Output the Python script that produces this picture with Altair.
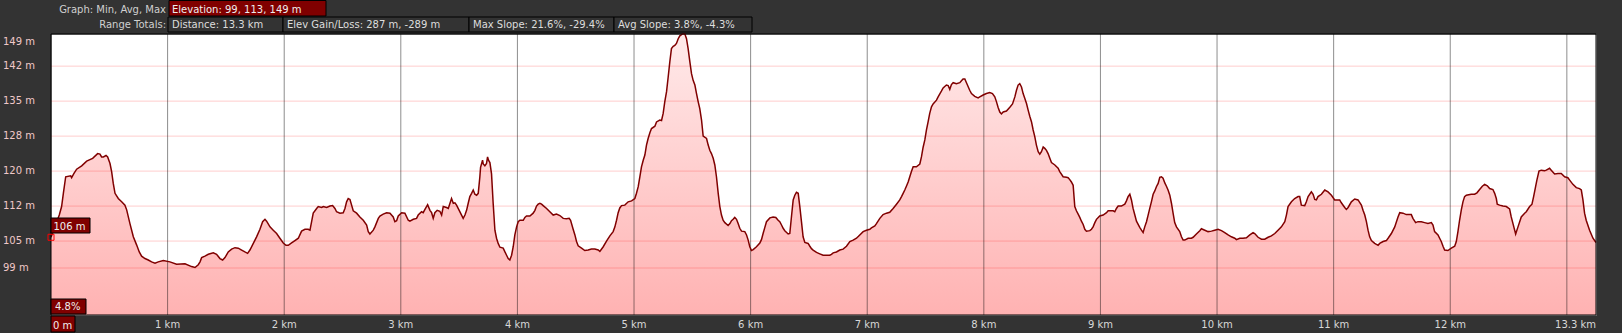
import altair as alt
import pandas as pd

# ---------------- data ----------------
dist_km = [
    0.000, 0.071, 0.091, 0.106, 0.126, 0.169, 0.177, 0.197, 0.220, 0.263,
    0.306, 0.357, 0.400, 0.420, 0.434, 0.449, 0.472, 0.486, 0.506, 0.520,
    0.534, 0.549, 0.577, 0.606, 0.634, 0.649, 0.677, 0.706, 0.734, 0.757,
    0.777, 0.806, 0.834, 0.863, 0.892, 0.920, 0.963, 1.020, 1.077, 1.149,
    1.206, 1.235, 1.263,
    1.278, 1.292, 1.320, 1.349, 1.392, 1.420, 1.449, 1.472, 1.492, 1.520,
    1.549, 1.578, 1.606, 1.635, 1.663, 1.686, 1.706, 1.735, 1.763, 1.792,
    1.815, 1.835, 1.849, 1.878, 1.906, 1.935, 1.963, 1.992, 2.015, 2.035,
    2.063, 2.092, 2.121, 2.149, 2.178, 2.206, 2.221, 2.235, 2.249, 2.278,
    2.292, 2.321, 2.335, 2.364, 2.392, 2.415, 2.435, 2.449, 2.478, 2.506,
    2.521, 2.535, 2.549, 2.564, 2.578, 2.592, 2.621, 2.649, 2.678, 2.707,
    2.721, 2.735, 2.764, 2.778, 2.807, 2.821, 2.849, 2.878, 2.907, 2.935,
    2.949, 2.964, 2.978, 3.007, 3.035, 3.064, 3.078, 3.107, 3.135, 3.149,
    3.178, 3.192, 3.207, 3.230, 3.250, 3.264, 3.278, 3.292, 3.312, 3.335,
    3.350, 3.364, 3.392, 3.407, 3.435, 3.450, 3.464, 3.478, 3.492, 3.521,
    3.535, 3.550, 3.564, 3.578, 3.592, 3.607, 3.621, 3.635, 3.650, 3.664,
    3.678, 3.684, 3.701, 3.707, 3.721, 3.735, 3.744, 3.752, 3.764, 3.778,
    3.792, 3.807, 3.821, 3.835, 3.850, 3.878, 3.893, 3.907, 3.921, 3.935,
    3.950, 3.964, 3.978, 3.993, 4.007, 4.021, 4.050, 4.064, 4.078, 4.107,
    4.135, 4.150, 4.164, 4.178, 4.193, 4.207, 4.221, 4.250, 4.278, 4.307,
    4.335, 4.364, 4.393, 4.421, 4.444, 4.456, 4.478, 4.493, 4.507, 4.521,
    4.550, 4.578, 4.607, 4.635, 4.664, 4.693, 4.707,
    4.736, 4.764, 4.793, 4.821, 4.836, 4.850, 4.864, 4.878, 4.893, 4.921,
    4.950, 4.979, 5.007, 5.021, 5.036, 5.050, 5.064, 5.079, 5.093, 5.107,
    5.121, 5.136, 5.150, 5.179, 5.193, 5.221, 5.236, 5.250, 5.264, 5.279,
    5.293, 5.307, 5.321, 5.336, 5.350, 5.364, 5.379, 5.393, 5.416, 5.436,
    5.450, 5.464, 5.479, 5.493, 5.507, 5.522, 5.536, 5.550, 5.564, 5.579,
    5.593, 5.622, 5.636, 5.650, 5.664, 5.679, 5.693, 5.707, 5.722, 5.736,
    5.750, 5.764, 5.779, 5.807, 5.822, 5.836, 5.850, 5.864, 5.879, 5.893,
    5.907, 5.922, 5.950, 5.965, 5.979, 5.993, 6.007, 6.022, 6.050, 6.079,
    6.093, 6.107, 6.122, 6.136, 6.165, 6.193, 6.216, 6.236, 6.250, 6.265,
    6.279, 6.293, 6.322, 6.336, 6.350, 6.365, 6.379, 6.393, 6.408, 6.422,
    6.436, 6.450, 6.465, 6.493, 6.508, 6.522, 6.536, 6.565, 6.593, 6.622,
    6.650, 6.679, 6.693, 6.708, 6.736, 6.765, 6.793, 6.822, 6.851, 6.879,
    6.908, 6.936, 6.965, 6.993, 7.022, 7.036, 7.065, 7.079, 7.108, 7.136,
    7.165, 7.193, 7.222, 7.251, 7.279, 7.294, 7.308, 7.322, 7.336, 7.351,
    7.365, 7.379, 7.394, 7.422, 7.451, 7.465, 7.479, 7.494, 7.508, 7.522,
    7.536, 7.551, 7.565, 7.594, 7.608, 7.636, 7.651, 7.679, 7.694, 7.708,
    7.722, 7.737, 7.765, 7.794, 7.808, 7.822, 7.837, 7.851, 7.879, 7.894,
    7.922, 7.951, 7.965, 7.994, 8.022, 8.051, 8.074, 8.094, 8.108, 8.122,
    8.137,
    8.151, 8.166, 8.194, 8.223, 8.246, 8.266, 8.280, 8.294, 8.308, 8.323,
    8.337, 8.351, 8.366, 8.380, 8.394, 8.409, 8.423, 8.437, 8.451, 8.466,
    8.480, 8.494, 8.509, 8.523, 8.537, 8.551, 8.566, 8.580, 8.609, 8.637,
    8.651, 8.680, 8.709, 8.723, 8.737, 8.751, 8.766, 8.780, 8.794, 8.809,
    8.823, 8.837, 8.852, 8.866, 8.880, 8.909, 8.923, 8.937, 8.952, 8.966,
    8.994, 9.023, 9.052, 9.066, 9.109, 9.123, 9.137, 9.152, 9.180, 9.194,
    9.209, 9.223, 9.237, 9.252, 9.266, 9.280, 9.295, 9.309, 9.337, 9.352,
    9.366, 9.380, 9.395, 9.409, 9.423, 9.437, 9.452, 9.466, 9.480, 9.495,
    9.509, 9.523, 9.537, 9.552, 9.566, 9.580, 9.595, 9.609, 9.623, 9.637,
    9.652, 9.680, 9.695, 9.709, 9.723, 9.752, 9.780, 9.795, 9.823, 9.852,
    9.866, 9.895, 9.923, 9.952, 9.980, 10.009, 10.038, 10.066, 10.095, 10.123,
    10.152, 10.166, 10.195, 10.223, 10.252, 10.281, 10.309, 10.323, 10.352, 10.381,
    10.409, 10.438, 10.466, 10.495, 10.523, 10.552, 10.581, 10.595, 10.609, 10.638,
    10.666, 10.695, 10.709, 10.723, 10.752, 10.766, 10.781, 10.809, 10.824, 10.838,
    10.852, 10.866, 10.895, 10.924, 10.952, 10.981, 11.009, 11.052, 11.066, 11.095,
    11.109, 11.124, 11.152, 11.181, 11.209, 11.238, 11.252, 11.267, 11.281, 11.295,
    11.309, 11.324, 11.352, 11.381, 11.395, 11.424, 11.452, 11.467, 11.495, 11.524,
    11.552, 11.567,
    11.595, 11.623, 11.666, 11.680, 11.703, 11.723, 11.752, 11.780, 11.809, 11.838,
    11.852, 11.866, 11.895, 11.909, 11.923, 11.938, 11.952, 11.980, 12.009, 12.038,
    12.052, 12.066, 12.080, 12.095, 12.109, 12.123, 12.138, 12.180, 12.209, 12.229,
    12.252, 12.275, 12.295, 12.318, 12.338, 12.366, 12.381, 12.395, 12.403, 12.423,
    12.452, 12.481, 12.509, 12.523, 12.538, 12.561, 12.581, 12.609, 12.638, 12.652,
    12.681, 12.701, 12.715, 12.732, 12.743, 12.761, 12.781, 12.809, 12.824, 12.852,
    12.866, 12.895, 12.924, 12.952, 12.981, 13.009, 13.024, 13.052, 13.081, 13.109,
    13.124, 13.138, 13.152, 13.166, 13.195, 13.224, 13.250,
]

elev_m = [
    105.8, 110.5, 112.3, 115.1, 118.6, 118.8, 118.4, 119.3, 120.2, 120.9,
    121.9, 122.5, 123.5, 123.4, 122.8, 122.8, 123.1, 122.8, 121.4, 119.7,
    117.2, 115.1, 114.0, 113.3, 112.6, 111.6, 108.7, 105.9, 104.2, 102.7,
    101.8, 101.3, 101.0, 100.6, 100.3, 100.6, 100.9, 100.6, 100.1, 100.2,
    99.6, 99.4, 100.0,
    100.6, 101.5, 101.8, 102.2, 102.5, 102.2, 101.3, 101.0, 101.5, 102.7,
    103.3, 103.6, 103.5, 103.1, 102.7, 102.4, 103.1, 104.5, 105.9, 107.5,
    109.1, 109.6, 109.2, 108.0, 107.3, 106.6, 105.6, 104.6, 104.1, 104.1,
    104.6, 105.1, 105.6, 107.1, 107.5, 107.5, 107.3, 109.1, 110.9, 111.9,
    112.3, 112.1, 112.3, 112.1, 112.4, 112.5, 111.9, 111.2, 110.9, 111.0,
    111.9, 113.3, 114.0, 113.8, 112.6, 111.4, 110.9, 110.1, 109.4, 108.4,
    107.0, 106.5, 107.3, 108.0, 109.8, 110.3, 110.7, 111.0, 110.9, 110.1,
    109.1, 109.3, 110.3, 111.0, 110.9, 109.4, 109.2, 109.6, 109.8, 110.5,
    111.2, 111.0, 111.7, 112.7, 111.5, 111.0, 109.8, 111.0, 111.5, 111.3,
    110.5, 112.3, 112.1, 111.9, 114.0, 113.0, 113.1, 112.6, 111.9, 110.5,
    109.8, 110.5, 111.5, 113.0, 114.4, 115.1, 115.8, 114.9, 114.7, 115.1,
    118.6, 120.6, 122.1, 121.3, 120.9, 121.4, 122.8, 122.1, 121.6, 119.2,
    113.0, 107.3, 105.6, 104.5, 103.7, 103.5, 102.7, 102.0, 101.3, 101.0,
    102.0, 103.8, 106.3, 108.0, 109.1, 109.4, 109.4, 110.0, 110.3, 110.3,
    110.9, 111.5, 112.4, 112.8, 113.0, 112.8, 112.5, 111.9, 111.2, 110.5,
    110.7, 110.4, 109.8, 109.7, 109.8, 109.4, 107.5, 106.3, 104.9, 104.0,
    103.5, 103.0, 103.1, 103.3, 103.3, 103.1, 102.8,
    103.8, 105.0, 106.1, 107.0, 108.0, 109.4, 111.0, 112.0, 112.5, 112.6,
    113.3, 113.5, 114.0, 115.1, 116.5, 118.6, 120.7, 122.1, 123.2, 125.3,
    126.7, 127.9, 128.8, 129.3, 130.2, 130.6, 130.5, 132.0, 134.5, 136.6,
    139.7, 142.9, 145.7, 146.2, 146.4, 146.8, 147.8, 148.4, 148.8, 148.8,
    147.8, 145.7, 142.9, 140.4, 139.0, 138.0, 136.2, 134.5, 133.0, 130.6,
    127.2, 126.7, 125.3, 124.2, 123.5, 122.5, 121.1, 118.6, 115.1, 112.3,
    110.5, 109.4, 108.9, 108.3, 108.7, 109.3, 109.6, 110.0, 109.6, 108.7,
    107.7, 107.1, 107.0, 106.3, 105.2, 103.8, 103.0, 103.2, 103.8, 104.6,
    105.3, 106.6, 107.9, 109.1, 109.9, 110.1, 110.0, 109.4, 109.1, 108.4,
    107.7, 107.2, 106.5, 106.6, 110.1, 113.7, 114.7, 115.3, 115.1, 112.3,
    109.1, 105.9, 104.7, 104.5, 103.9, 103.4, 103.1, 102.6, 102.3, 102.0,
    102.0, 102.0, 102.2, 102.5, 102.7, 103.1, 103.3, 103.9, 104.9, 105.2,
    105.6, 106.3, 107.0, 107.3, 107.5, 107.8, 108.2, 108.7, 109.8, 110.6,
    110.9, 111.1, 111.9, 112.8, 113.7, 114.4, 115.1, 115.8, 116.6, 117.5,
    118.6, 119.7, 120.7, 120.7, 121.3, 122.8, 124.8, 126.4, 128.5, 130.2,
    132.0, 133.4, 134.0, 134.8, 135.5, 136.7, 137.4, 138.0, 137.9, 137.1,
    138.1, 138.5, 138.3, 138.5, 138.9, 139.3, 139.3, 138.5, 136.9, 136.2,
    135.6, 135.3, 135.5, 135.9, 136.2, 136.4, 136.2, 135.5, 134.5, 133.3,
    132.3,
    131.9, 132.3, 132.5, 133.3, 134.0, 135.5, 136.9, 138.0, 138.3, 137.6,
    136.2, 135.2, 134.1, 132.7, 131.4, 130.2, 128.5, 127.1, 125.3, 123.9,
    123.4, 123.9, 124.9, 124.6, 124.2, 123.5, 122.5, 121.6, 121.1, 120.4,
    119.7, 118.6, 118.5, 118.4, 118.0, 117.5, 116.8, 112.3, 111.4, 110.7,
    110.0, 109.2, 108.5, 107.5, 107.1, 107.2, 107.5, 108.0, 108.9, 109.6,
    110.3, 110.5, 111.0, 111.4, 111.4, 111.2, 111.9, 112.4, 112.4, 112.6,
    112.8, 113.5, 114.4, 114.9, 113.7, 111.9, 110.5, 109.2, 107.9, 107.3,
    106.8, 108.0, 109.1, 110.5, 111.9, 113.3, 114.9, 115.6, 116.5, 117.2,
    118.5, 118.6, 118.3, 117.3, 116.6, 115.8, 114.7, 113.0, 110.9, 108.9,
    108.0, 107.0, 105.9, 105.2, 105.2, 105.6, 105.6, 105.8, 106.5, 107.2,
    107.6, 107.3, 107.0, 107.1, 107.3, 107.5, 107.2, 106.8, 106.3, 105.9,
    105.6, 105.3, 105.6, 105.6, 105.7, 106.3, 106.8, 106.6, 105.8, 105.4,
    105.4, 105.8, 106.1, 106.6, 107.3, 108.0, 109.1, 110.5, 112.3, 113.3,
    114.0, 114.4, 114.4, 112.6, 112.5, 113.3, 114.4, 115.4, 114.9, 113.8,
    113.7, 114.4, 114.9, 115.8, 115.4, 114.7, 113.7, 113.7, 113.1, 112.1,
    111.7, 112.1, 113.3, 113.9, 113.7, 112.6, 111.5, 110.5, 109.1, 107.3,
    105.9, 105.1, 104.5, 104.1, 104.5, 104.9, 105.1, 105.6, 106.6, 108.0,
    110.1, 111.0,
    110.9, 110.6, 110.6, 109.8, 108.9, 109.1, 109.1, 108.9, 108.7, 108.9,
    108.4, 107.0, 106.3, 105.6, 104.9, 103.9, 103.1, 103.0, 103.5, 103.9,
    104.9, 107.0, 109.4, 111.6, 113.3, 114.4, 114.7, 114.9, 114.9, 115.2,
    115.9, 116.6, 117.0, 116.7, 116.1, 115.9, 115.1, 114.0, 112.8, 112.6,
    112.4, 112.3, 111.8, 110.1, 108.7, 106.5, 108.0, 110.1, 110.9, 111.2,
    112.3, 112.8, 114.4, 116.5, 117.9, 119.8, 120.0, 119.9, 120.0, 120.4,
    120.0, 119.2, 119.3, 119.3, 118.6, 118.4, 117.9, 117.0, 116.3, 116.1,
    115.8, 113.7, 110.9, 109.4, 107.3, 105.6, 104.7,
]
assert len(dist_km) == len(elev_m)

# axis ticks / grid
y_tick_values = [148.8, 142.0, 134.6, 127.2, 119.8, 112.4, 105.0, 99.3]
y_tick_labels = ["149 m", "142 m", "135 m", "128 m", "120 m", "112 m", "105 m", "99 m"]
y_grid_values = [142.0, 134.6, 127.2, 119.8, 112.4, 105.0, 99.3]
x_grid_values = [1, 2, 3, 4, 5, 6, 7, 8, 9, 10, 11, 12, 13]
x_tick_values = [1, 2, 3, 4, 5, 6, 7, 8, 9, 10, 11, 12, 13.25]
x_tick_labels = ["1 km", "2 km", "3 km", "4 km", "5 km", "6 km", "7 km", "8 km",
                 "9 km", "10 km", "11 km", "12 km", "13.3 km"]

# header texts
row1_label = "Graph: Min, Avg, Max"
row1_box = "Elevation: 99, 113, 149 m"
row2_label = "Range Totals:"
row2_boxes = ["Distance: 13.3 km", "Elev Gain/Loss: 287 m, -289 m",
              "Max Slope: 21.6%, -29.4%", "Avg Slope: 3.8%, -4.3%"]

# cursor
cursor_km = [0.0]
cursor_elev = [105.8]
cursor_elev_label = "106 m"
cursor_slope_label = "4.8%"
cursor_dist_label = "0 m"

# ---------------- layout / style ----------------
W, H = 1545, 281
X_MAX = 13.25
Y_MIN, Y_MAX = 89.36, 148.8
FONT = "DejaVu Sans"

x_scale = alt.Scale(domain=[0, X_MAX], nice=False, zero=False)
y_scale = alt.Scale(domain=[Y_MIN, Y_MAX], nice=False, zero=False)

profile = pd.DataFrame({"km": dist_km, "elev": elev_m})

gradient = alt.Gradient(
    gradient="linear",
    stops=[alt.GradientStop(color="#ffeaea", offset=0),
           alt.GradientStop(color="#ffb2b2", offset=1)],
    x1=1, x2=1, y1=0, y2=1)

area = alt.Chart(profile).mark_area(color=gradient, interpolate="linear").encode(
    x=alt.X("km:Q", scale=x_scale, axis=None),
    y=alt.Y("elev:Q", scale=y_scale, axis=None, stack=None),
    y2=alt.value(H),
)

hgrid = alt.Chart(pd.DataFrame({"elev": y_grid_values})).mark_rule(
    color="#ff0000", opacity=0.2, strokeWidth=1).encode(
    y=alt.Y("elev:Q", scale=y_scale, axis=None))

vgrid = alt.Chart(pd.DataFrame({"km": x_grid_values})).mark_rule(
    color="#000000", opacity=0.45, strokeWidth=1).encode(
    x=alt.X("km:Q", scale=x_scale, axis=None))

line = alt.Chart(profile).mark_line(color="#800000", strokeWidth=1.5, interpolate="linear").encode(
    x=alt.X("km:Q", scale=x_scale, axis=None),
    y=alt.Y("elev:Q", scale=y_scale, axis=None),
)

one = pd.DataFrame({"t": [""]})

frame = alt.Chart(one).mark_rect(fillOpacity=0, stroke="#000000", strokeWidth=1).encode(
    x=alt.value(0), x2=alt.value(W), y=alt.value(0), y2=alt.value(H))

# tick labels placed through the scales
ylab_df = pd.DataFrame({"elev": y_tick_values, "lab": y_tick_labels})
ylab_mid = alt.Chart(ylab_df).transform_filter(f"datum.elev < {Y_MAX}").mark_text(
    align="left", baseline="middle", font=FONT, fontSize=10, color="#f0c8c8").encode(
    x=alt.value(-48), y=alt.Y("elev:Q", scale=y_scale, axis=None), text="lab:N")
ylab_top = alt.Chart(ylab_df).transform_filter(f"datum.elev >= {Y_MAX}").mark_text(
    align="left", baseline="top", dy=3, font=FONT, fontSize=10, color="#f0c8c8").encode(
    x=alt.value(-48), y=alt.Y("elev:Q", scale=y_scale, axis=None), text="lab:N")

xlab_df = pd.DataFrame({"km": x_tick_values, "lab": x_tick_labels})
xlab_mid = alt.Chart(xlab_df).transform_filter(f"datum.km < {X_MAX}").mark_text(
    align="center", baseline="top", font=FONT, fontSize=10, color="#d8d8d8").encode(
    x=alt.X("km:Q", scale=x_scale, axis=None), y=alt.value(H + 5), text="lab:N")
xlab_end = alt.Chart(xlab_df).transform_filter(f"datum.km >= {X_MAX}").mark_text(
    align="right", baseline="top", font=FONT, fontSize=10, color="#d8d8d8").encode(
    x=alt.X("km:Q", scale=x_scale, axis=None), y=alt.value(H + 5), text="lab:N")


def box(x1, x2, y1, y2, fill):
    return alt.Chart(one).mark_rect(fill=fill, stroke="#000000", strokeWidth=1).encode(
        x=alt.value(x1), x2=alt.value(x2), y=alt.value(y1), y2=alt.value(y2))


def label(text, x, y, align="left", color="#eeeeee"):
    return alt.Chart(pd.DataFrame({"t": [text]})).mark_text(
        align=align, baseline="alphabetic", font=FONT, fontSize=10, color=color).encode(
        text="t:N", x=alt.value(x), y=alt.value(y))


layers = [area, hgrid, vgrid, line, frame, ylab_mid, ylab_top, xlab_mid, xlab_end]

# cursor marker and boxes
layers.append(alt.Chart(pd.DataFrame({"km": cursor_km, "elev": cursor_elev})).mark_point(
    shape="square", size=36, filled=False, color="#ff0000", strokeWidth=1, opacity=1).encode(
    x=alt.X("km:Q", scale=x_scale, axis=None),
    y=alt.Y("elev:Q", scale=y_scale, axis=None)))
layers += [box(0, 39, 184, 199, "#800000"), label(cursor_elev_label, 2.5, 195.5)]
layers += [box(0, 35, 265, 280, "#800000"), label(cursor_slope_label, 4, 276)]
layers += [box(0, 24, 282, 298, "#800000"), label(cursor_dist_label, 2, 294.5)]

# header
layers += [label(row1_label, 115, -21, align="right", color="#d0d0d0"),
           box(118, 275, -33.5, -18, "#800000"), label(row1_box, 121, -21)]
layers += [label(row2_label, 115, -6, align="right", color="#d0d0d0")]
row2_edges = [117, 232, 418, 563, 701]
for i, txt in enumerate(row2_boxes):
    layers += [box(row2_edges[i], row2_edges[i + 1], -17, -2, "#333333"),
               label(txt, row2_edges[i] + 4, -6, color="#dddddd")]

chart = alt.layer(*layers).properties(
    width=W, height=H,
    background="#333333",
    padding={"left": 51, "top": 34, "right": 26, "bottom": 18},
    autosize=alt.AutoSizeParams(type="none"),
).configure_view(stroke="transparent", fill="#ffffff")

chart.save("out.html", embed_options={"renderer": "svg", "actions": False})
